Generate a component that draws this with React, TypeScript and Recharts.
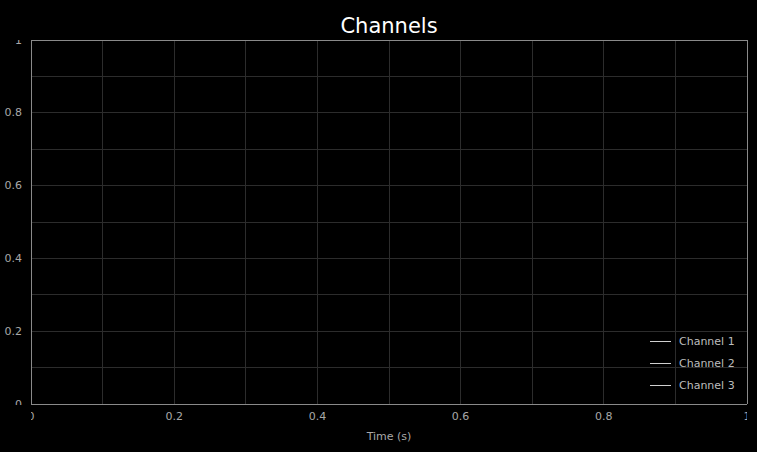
import { CartesianGrid, Legend, Line, LineChart, ReferenceLine, XAxis, YAxis } from "recharts";

// time span of the record, no samples captured on any channel
const timeValues: number[] = [0, 1];
const channel1: (number | null)[] = [null, null];
const channel2: (number | null)[] = [null, null];
const channel3: (number | null)[] = [null, null];
const seriesNames = ["Channel 1", "Channel 2", "Channel 3"];
const axisTicks = [0, 0.2, 0.4, 0.6, 0.8, 1];
const gridValues = [0, 0.1, 0.2, 0.3, 0.4, 0.5, 0.6, 0.7, 0.8, 0.9, 1];

const W = 757;
const H = 452;
const PLOT = { left: 31, top: 40, right: 747, bottom: 404 };
const FONT = "'DejaVu Sans', sans-serif";

const data = timeValues.map((t, i) => ({ t, c1: channel1[i], c2: channel2[i], c3: channel3[i] }));

function XTick(props: any) {
  const { x, y, payload, index } = props;
  const id = `xclip-${index}`;
  return (
    <g>
      <clipPath id={id}>
        <rect x={PLOT.left} y={0} width={PLOT.right - PLOT.left} height={H} />
      </clipPath>
      <text x={x} y={y + 4} textAnchor="middle" dominantBaseline="central" fill="#a8a8a8" fontSize={11} fontFamily={FONT} clipPath={`url(#${id})`}>
        {payload.value}
      </text>
    </g>
  );
}

function YTick(props: any) {
  const { x, y, payload, index } = props;
  const id = `yclip-${index}`;
  return (
    <g>
      <clipPath id={id}>
        <rect x={0} y={PLOT.top} width={W} height={PLOT.bottom - PLOT.top + 1} />
      </clipPath>
      <text x={x - 1} y={y} textAnchor="end" dominantBaseline="central" fill="#a8a8a8" fontSize={11} fontFamily={FONT} clipPath={`url(#${id})`}>
        {payload.value}
      </text>
    </g>
  );
}

function LegendBox({ payload }: any) {
  return (
    <div style={{ fontFamily: FONT, fontSize: 11, color: "#bdbdbd" }}>
      {(payload || []).map((p: any) => (
        <div key={p.value} style={{ display: "flex", alignItems: "center", height: 22 }}>
          <div style={{ width: 21, height: 0, borderTop: "1.5px solid #d0d0d0", marginRight: 8 }} />
          <span>{p.value}</span>
        </div>
      ))}
    </div>
  );
}

export default function App() {
  return (
    <div style={{ position: "absolute", left: 0, top: 0, width: W, height: H, background: "#000" }}>
      <div
        style={{
          position: "absolute",
          left: PLOT.left,
          top: 10,
          width: PLOT.right - PLOT.left,
          textAlign: "center",
          color: "#fff",
          fontFamily: FONT,
          fontSize: 21,
          lineHeight: "32px",
        }}
      >
        Channels
      </div>
      <LineChart
        width={W}
        height={H}
        data={data}
        margin={{ top: PLOT.top, right: W - PLOT.right, bottom: 0, left: 0 }}
        style={{ position: "absolute", left: 0, top: 0 }}
      >
        <CartesianGrid
          stroke="#2c2c2c"
          strokeWidth={1}
          shapeRendering="crispEdges"
          horizontalValues={gridValues}
          verticalValues={gridValues}
        />
        <XAxis
          type="number"
          dataKey="t"
          domain={[0, 1]}
          allowDataOverflow
          ticks={axisTicks}
          height={H - PLOT.bottom}
          tickLine={false}
          axisLine={{ stroke: "#8a8a8a", shapeRendering: "crispEdges" }}
          tick={<XTick />}
          interval={0}
          label={{ value: "Time (s)", position: "insideBottom", offset: 12, fill: "#a8a8a8", fontSize: 11, fontFamily: FONT }}
        />
        <YAxis
          type="number"
          domain={[0, 1]}
          allowDataOverflow
          ticks={axisTicks}
          width={PLOT.left}
          tickLine={false}
          axisLine={{ stroke: "#8a8a8a", shapeRendering: "crispEdges" }}
          tick={<YTick />}
          interval={0}
        />
        <ReferenceLine y={1} stroke="#8a8a8a" shapeRendering="crispEdges" ifOverflow="visible" />
        <ReferenceLine x={1} stroke="#8a8a8a" shapeRendering="crispEdges" ifOverflow="visible" />
        <Legend
          layout="vertical"
          align="center"
          verticalAlign="middle"
          content={<LegendBox />}
          wrapperStyle={{ left: 650, top: 330, width: 100, height: 66 }}
        />
        <Line dataKey="c1" name={seriesNames[0]} stroke="#d0d0d0" dot={false} isAnimationActive={false} />
        <Line dataKey="c2" name={seriesNames[1]} stroke="#d0d0d0" dot={false} isAnimationActive={false} />
        <Line dataKey="c3" name={seriesNames[2]} stroke="#d0d0d0" dot={false} isAnimationActive={false} />
      </LineChart>
    </div>
  );
}
